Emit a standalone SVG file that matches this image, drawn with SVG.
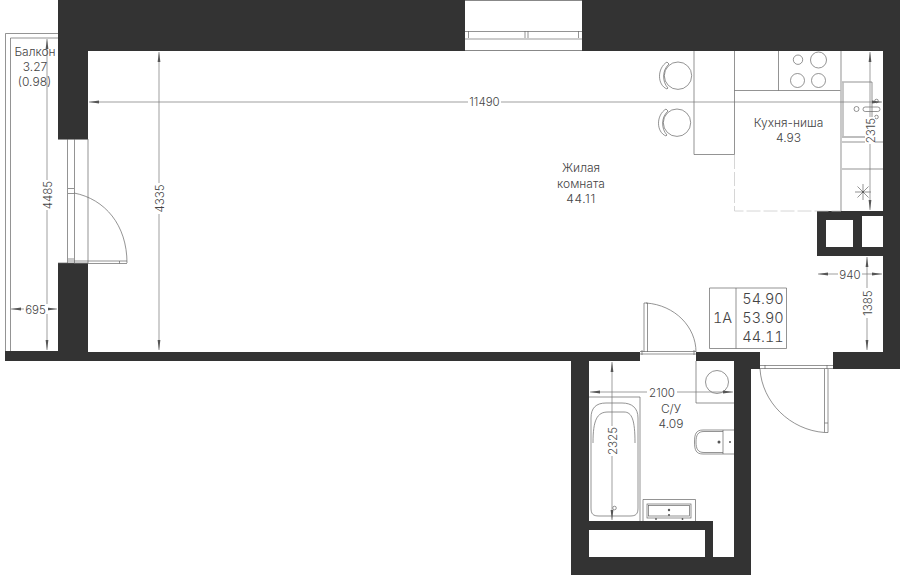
<svg xmlns="http://www.w3.org/2000/svg" width="900" height="575" viewBox="0 0 900 575">
<style>
.w{fill:#333}
.h{fill:#fff}
.l{fill:none;stroke:#666;stroke-width:.7}
.g{fill:none;stroke:#bbb;stroke-width:1.6}
.d{fill:none;stroke:#777;stroke-width:.7}
.a{fill:#555}
text{font-family:Inter,"Liberation Sans",sans-serif;font-weight:300;fill:#444;font-size:12px;text-anchor:middle}
.n{font-size:11.5px}
.big{font-size:14.5px;font-variant-numeric:tabular-nums}
.sp{letter-spacing:.6px}
.bg{fill:#fff}
</style>
<defs>
<marker id="ar" viewBox="0 0 10 4" refX="10" refY="2" markerWidth="10" markerHeight="4" markerUnits="userSpaceOnUse" orient="auto-start-reverse"><path d="M10 2L0 .6V3.400Z" fill="#555"/></marker>
</defs>
<rect width="900" height="575" fill="#fff"/>
<g id="walls">
<path class="w" d="M58 0H465V51H88V139H58ZM582 0H900V369H833V352H883V51H582ZM58 263H88V352H640V361H589V521H713V557H734V361H696V352H760V369H751V575H571V361H5V351H58Z"/>
<path class="w" d="M817 211H883V256H817Z"/>
<rect class="h" x="826" y="220" width="27" height="27"/>
<rect class="h" x="862" y="216" width="21" height="31"/>
<rect class="h" x="589" y="530" width="116" height="27"/>
</g>
<g id="balcony">
<path class="l" d="M58 33.500H5.500V351M58 38H10.500V351"/>
<path class="l" d="M58 139.500H88M58 263H88M88 139V263M67.500 139V263M74.500 139V263"/>
<path class="l" d="M68 188.500H74M68 193.500H74M68 259H74M68 261H74"/>
<path class="l" d="M74 193C105 199 127 225 127 263M74 263.500H127M119.500 261V263.500M74 261H127"/>
</g>
<g id="window">
<path d="M465 .5H582M465 50.500H582" stroke="#888" stroke-width="1" fill="none"/>
<path class="l" d="M465 31.500H582M468.500 31V38M525 31V38M528 31V38M578.500 31V38"/>
<path d="M465 39H582" stroke="#ccc" stroke-width="2"/>
</g>
<g id="kitchen">
<path class="l" d="M694 51V154.500H734.500V51M734.500 90.500H841M778.500 51V90.500"/>
<circle class="l" cx="798" cy="59.700" r="4.700"/><circle class="l" cx="818.500" cy="60" r="8"/>
<circle class="l" cx="797.500" cy="80.500" r="7"/><circle class="l" cx="818.500" cy="80.500" r="7"/>
<path class="g" d="M841 51V211"/>
<path class="l" d="M842 82H872V137H842M842 142H883M842 169H883"/>
<path class="g" d="M843 82V137H871"/>
<circle class="l" cx="856.500" cy="109" r="2.500"/>
<rect class="l" x="863" y="107" width="17" height="4.500" rx="2.200"/>
<circle class="l" cx="876.500" cy="101" r="1.800"/><circle class="l" cx="876.500" cy="117" r="1.800"/>
<path class="l" d="M855 192H871M863 184V200M857.500 186.500L868.500 197.500M868.500 186.500L857.500 197.500"/>
<circle class="a" cx="863" cy="192" r="1"/>
<path d="M734.500 155V211H841" fill="none" stroke="#ccc" stroke-width=".8" stroke-dasharray="14 3"/>
</g>
<g id="chairs">
<circle class="l" cx="678" cy="75.700" r="13.700"/>
<path class="l" d="M667 62C657 68 657 85 667 89M667 62L669 64C662 70 662 82 668 88L667 89"/>
<circle class="l" cx="677" cy="122.700" r="13.700"/>
<path class="l" d="M666 109C656 115 656 132 666 136M666 109L668 111C661 117 661 129 667 135L666 136"/>
</g>
<g id="bathroom">
<path class="l" d="M589 397H640V521M696 361V403H734"/>
<circle class="l" cx="717" cy="382" r="11.500"/>
<path class="l" d="M591 508V418C591 408 596 403 606 403H622C632 403 638 408 638 418V508C638 514 636 516 630 516H599C593 516 591 514 591 508Z"/>
<path class="l" d="M593 443C593 420 597 412 608 412H624C632 412 635 420 635 443"/>
<circle class="l" cx="614.500" cy="508" r="1.800"/>
<path class="l" d="M643 499.500H695.500V521M643 499.500V521"/>
<rect class="l" x="647" y="504" width="44" height="14"/>
<rect class="l" x="648.500" y="505.500" width="41" height="10.500"/>
<circle class="a" cx="669" cy="510" r="1.200"/><circle class="a" cx="669" cy="515" r="1"/>
<circle class="a" cx="656" cy="519" r=".9"/><circle class="a" cx="682.500" cy="519" r=".9"/>
<path class="l" d="M734 430H723V454H734M723 430H703C696 430 694.500 434 694.500 442C694.500 450 696 454 703 454H723"/>
<path class="l" d="M723 431.500H704C698 431.500 696 435 696 442C696 449 698 452.500 704 452.500H723"/>
<circle class="a" cx="719" cy="442" r="1.500"/><circle class="a" cx="730" cy="442" r="1"/>
</g>
<g id="doors">
<path class="l" d="M640 351.500H696M640 354H696M642 350V355M694 350V355"/>
<path class="l" d="M644 303H647.500V352M644 303V352M646 303C675 305 696 327 696 352"/>
<path class="l" d="M760 365.500H833M760 368.500H833M765 365V369M827 365V369"/>
<path class="l" d="M824.500 369V432.500H828V369M824.500 423H828M760 369C762 402 790 430 824.500 432.500"/>
</g>
<g id="table">
<path class="l" d="M709.500 288V348.500H786.500V288H709.500M736 288V348.500"/>
</g>
<g id="dimensions">
<path class="d" marker-start="url(#ar)" marker-end="url(#ar)" d="M89 102H882"/>
<path class="d" marker-start="url(#ar)" marker-end="url(#ar)" d="M159 52V350"/>
<path class="d" marker-start="url(#ar)" marker-end="url(#ar)" d="M47 39V350"/>
<path class="d" marker-start="url(#ar)" marker-end="url(#ar)" d="M11 309H57"/>
<path class="d" marker-start="url(#ar)" marker-end="url(#ar)" d="M870 52V210"/>
<path class="d" marker-start="url(#ar)" marker-end="url(#ar)" d="M818 274H882"/>
<path class="d" marker-start="url(#ar)" marker-end="url(#ar)" d="M867 257V350"/>
<path class="d" marker-start="url(#ar)" marker-end="url(#ar)" d="M590 392H733"/>
<path class="d" marker-start="url(#ar)" marker-end="url(#ar)" d="M612 362V520"/>
<rect class="bg" x="468" y="97" width="33" height="10"/>
<rect class="bg" x="154" y="183" width="10" height="31"/>
<rect class="bg" x="42" y="180" width="10" height="30"/>
<rect class="bg" x="24" y="304" width="24" height="10"/>
<rect class="bg" x="865" y="117" width="10" height="27"/>
<rect class="bg" x="838" y="269" width="24" height="10"/>
<rect class="bg" x="862" y="288" width="10" height="30"/>
<rect class="bg" x="647" y="387" width="30" height="10"/>
<rect class="bg" x="607" y="426" width="10" height="30"/>
</g>
<g id="labels">
<text class="n" x="484.500" y="106">11490</text>
<text class="n" transform="translate(163.500 198.500) rotate(-90)">4335</text>
<text class="n" transform="translate(51.500 195) rotate(-90)">4485</text>
<text class="n" x="35.500" y="313.500">695</text>
<text class="n" transform="translate(874.500 130.500) rotate(-90)">2315</text>
<text class="n" x="850" y="278.500">940</text>
<text class="n" transform="translate(871.500 303) rotate(-90)">1385</text>
<text class="n" x="662" y="396.500">2100</text>
<text class="n" transform="translate(616.500 441) rotate(-90)">2325</text>
<text x="581" y="172">Жилая</text>
<text x="581" y="188">комната</text>
<text class="sp" x="581" y="203">44.11</text>
<text x="35" y="56">Балкон</text>
<text x="35" y="71">3.27</text>
<text x="34.500" y="86">(0.98)</text>
<text x="788.500" y="127">Кухня-ниша</text>
<text x="788.500" y="142">4.93</text>
<text x="671" y="413">С/У</text>
<text x="671" y="428">4.09</text>
<text class="big" x="722.500" y="323">1А</text>
<text class="big" x="763" y="304">54.90</text>
<text class="big" x="763" y="323">53.90</text>
<text class="big" x="763" y="342">44.11</text>
</g>
</svg>
